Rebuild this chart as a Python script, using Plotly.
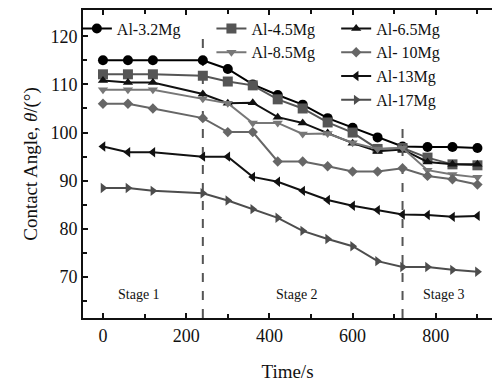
import plotly.graph_objects as go

time_s = [0, 60, 120, 240, 300, 360, 420, 480, 540, 600, 660, 720, 780, 840, 900]

al_3_2 = [115, 115, 115, 115, 113.2, 110, 107.8, 105.8, 103, 101, 99, 97.1, 97, 97, 96.8]
al_4_5 = [112.1, 112.1, 112.1, 111.8, 110.6, 109.8, 106.9, 105, 102.1, 100, 96.6, 96.8, 94.8, 93.4, 93.2]
al_6_5 = [110.8, 110.4, 110.4, 108, 106.1, 106.2, 103.2, 102, 99.9, 97.8, 96.1, 96.5, 93.9, 93.4, 93.4]
al_8_5 = [108.9, 108.9, 108.9, 107, 106.1, 102, 102, 99.7, 99.8, 97.9, 96.6, 96.8, 92.2, 91.3, 90.7]
al_10 = [106, 106, 105, 103, 100.1, 100.1, 94, 94, 93, 91.9, 91.9, 92.6, 91, 90.3, 89.2]
al_13 = [97.1, 95.9, 95.9, 95, 95, 90.8, 89.8, 87.9, 86, 84.8, 83.9, 83, 82.9, 82.5, 82.7]
al_17 = [88.5, 88.5, 87.9, 87.4, 85.9, 84.1, 82.3, 79.6, 77.9, 76.4, 73.3, 72.1, 72.1, 71.5, 71.1]

series_names = ["Al-3.2Mg", "Al-4.5Mg", "Al-6.5Mg", "Al-8.5Mg", "Al- 10Mg", "Al-13Mg", "Al-17Mg"]
series_values = [al_3_2, al_4_5, al_6_5, al_8_5, al_10, al_13, al_17]

stage_bounds = [240, 720]
stage_bound_tops = [119.5, 101.6]
stage_labels = ["Stage 1", "Stage 2", "Stage 3"]
stage_label_x = [86, 466, 820]
stage_label_y = 66.3

colors = ["#000000", "#555555", "#111111", "#777777", "#666666", "#111111", "#4d4d4d"]
symbols = ["circle", "square", "triangle-up", "triangle-down", "diamond", "triangle-left", "triangle-right"]
msizes = [10, 10, 9, 9, 8, 9, 9]
legends = ["legend", "legend2", "legend3", "legend2", "legend3", "legend3", "legend3"]

FONT = "Liberation Serif"

fig = go.Figure()
for name, vals, c, s, ms, lg in zip(series_names, series_values, colors, symbols, msizes, legends):
    fig.add_trace(go.Scatter(
        x=time_s, y=vals, name=name, mode="lines+markers",
        line=dict(color=c, width=2), marker=dict(symbol=s, size=ms, color=c),
        legend=lg, showlegend=True,
    ))

for xb, yt in zip(stage_bounds, stage_bound_tops):
    fig.add_shape(type="line", x0=xb, x1=xb, y0=61.5, y1=yt, xref="x", yref="y",
                  line=dict(color="#555555", width=2, dash="dash"), layer="below")

for lab, lx in zip(stage_labels, stage_label_x):
    fig.add_annotation(x=lx, y=stage_label_y, text=lab, showarrow=False,
                       font=dict(family=FONT, size=14, color="#111111"))

leg_common = dict(font=dict(family=FONT, size=16, color="#111111"), bgcolor="rgba(0,0,0,0)",
                  yanchor="top", xanchor="left", borderwidth=0, tracegroupgap=0)

fig.update_layout(
    width=492, height=385,
    margin=dict(l=83, r=0, t=10, b=67),
    paper_bgcolor="white", plot_bgcolor="white",
    showlegend=True,
    font=dict(family=FONT, size=18, color="#111111"),
    legend=dict(x=-0.015, y=0.995, **leg_common),
    legend2=dict(x=0.314, y=0.995, **leg_common),
    legend3=dict(x=0.619, y=0.995, **leg_common),
    xaxis=dict(
        range=[-48, 935], tickvals=[0, 200, 400, 600, 800],
        ticks="inside", ticklen=5, tickwidth=1.5, tickcolor="#111111",
        minor=dict(tickvals=[100, 300, 500, 700, 900], ticks="inside", ticklen=4, tickcolor="#111111"),
        showline=True, linecolor="#111111", linewidth=2, mirror="ticks",
        showgrid=False, zeroline=False,
        title=dict(text="Time/s", font=dict(family=FONT, size=19), standoff=20),
        tickfont=dict(family=FONT, size=18),
    ),
    yaxis=dict(
        range=[61.5, 125.45], tickvals=[70, 80, 90, 100, 110, 120],
        ticks="inside", ticklen=5, tickwidth=1.5, tickcolor="#111111",
        minor=dict(tickvals=[65, 75, 85, 95, 105, 115], ticks="inside", ticklen=4, tickcolor="#111111"),
        showline=True, linecolor="#111111", linewidth=2,
        showgrid=False, zeroline=False,
        title=dict(text="Contact Angle, <i>θ</i>/(°)", font=dict(family=FONT, size=19), standoff=8),
        tickfont=dict(family=FONT, size=18),
    ),
)

fig.write_html("out.html")
